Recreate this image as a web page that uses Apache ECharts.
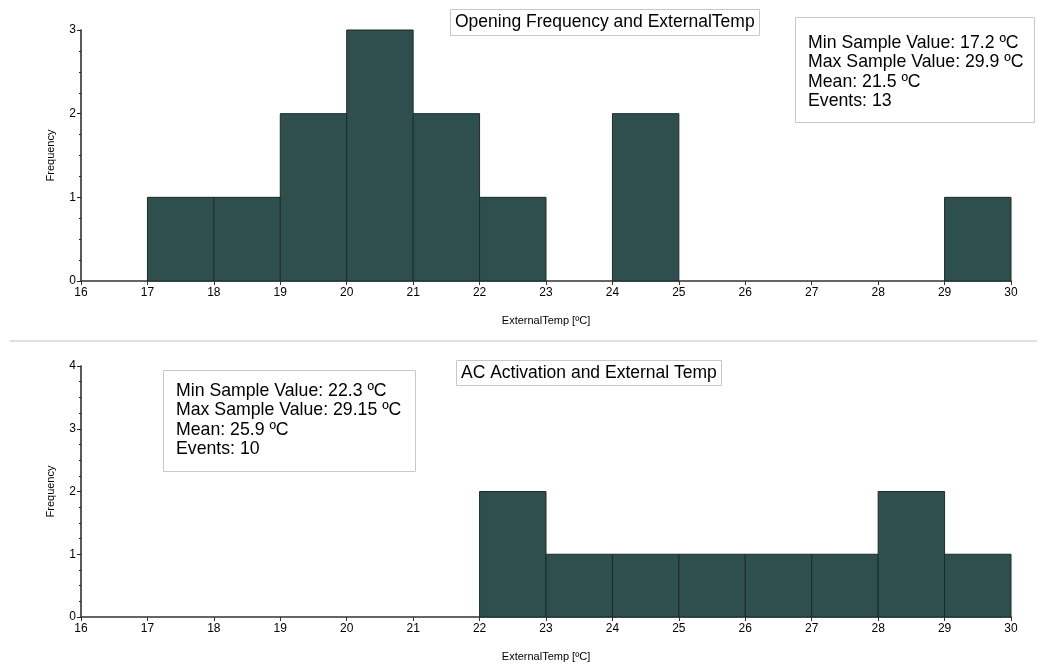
<!DOCTYPE html>
<html>
<head>
<meta charset="utf-8">
<script src="https://cdn.jsdelivr.net/npm/echarts@6/dist/echarts.min.js"></script>
<style>html,body{margin:0;padding:0;background:#fff}#c{width:1037px;height:664px}</style>
</head>
<body>
<div id="c"></div>
<script>
// ---- data ----
const binEdges = [16,17,18,19,20,21,22,23,24,25,26,27,28,29,30];
const openingCounts = [0,1,1,2,3,2,1,0,2,0,0,0,0,1];
const acCounts = [0,0,0,0,0,0,2,1,1,1,1,1,2,1];
const titles = ['Opening Frequency and ExternalTemp', 'AC Activation and External Temp'];
const openingStats = ['Min Sample Value: 17.2 ºC','Max Sample Value: 29.9 ºC','Mean: 21.5 ºC','Events: 13'];
const acStats = ['Min Sample Value: 22.3 ºC','Max Sample Value: 29.15 ºC','Mean: 25.9 ºC','Events: 10'];
const xName = 'ExternalTemp [ºC]';
const yName = 'Frequency';
const yMax = [3, 4];

const FONT = '"Liberation Sans", Arial, sans-serif';
function toData(counts){
  const out = [];
  for (let i = 0; i < counts.length; i++) out.push([binEdges[i], binEdges[i+1], counts[i]]);
  return out;
}
function renderBar(params, api){
  const c = api.value(2);
  if (!c) return null;
  const p0 = api.coord([api.value(0), 0]);
  const p1 = api.coord([api.value(1), c]);
  return {
    type: 'rect',
    shape: {x: p0[0], y: p1[1], width: p1[0]-p0[0], height: p0[1]-p1[1]},
    style: {fill: '#2f4f4f', stroke: '#1c2b2b', lineWidth: 1}
  };
}
function xAxisCfg(gi){
  return {
    gridIndex: gi, type: 'value', min: binEdges[0], max: binEdges[binEdges.length-1], interval: 1,
    name: xName, nameLocation: 'middle', nameGap: 34,
    nameTextStyle: {fontFamily: FONT, fontSize: 11, color: '#000'},
    axisLine: {show: true, onZero: false, lineStyle: {color: '#333', width: 1.5}},
    axisTick: {show: true, length: 4, lineStyle: {color: '#333'}},
    axisLabel: {fontFamily: FONT, fontSize: 12, color: '#000', margin: 6},
    splitLine: {show: false}
  };
}
function yAxisCfg(gi, max){
  return {
    gridIndex: gi, type: 'value', min: 0, max: max, interval: 1,
    name: yName, nameLocation: 'middle', nameGap: 25,
    nameTextStyle: {fontFamily: FONT, fontSize: 11, color: '#000'},
    axisLine: {show: true, lineStyle: {color: '#222', width: 1.5}},
    axisTick: {show: true, length: 4, lineStyle: {color: '#222'}},
    minorTick: {show: true, splitNumber: 4, length: 2, lineStyle: {color: '#222'}},
    axisLabel: {fontFamily: FONT, fontSize: 12, color: '#000', margin: 5},
    splitLine: {show: false}
  };
}
function titleBox(text, left, top, pad, fs){
  return {
    text: text, left: left, top: top,
    borderColor: '#c8c8c8', borderWidth: 1, padding: pad,
    textStyle: {fontFamily: FONT, fontSize: fs, fontWeight: 'normal', color: '#000', lineHeight: 19.5}
  };
}
const chart = echarts.init(document.getElementById('c'), null, {renderer: 'canvas'});
chart.setOption({
  backgroundColor: '#fff',
  animation: false,
  title: [
    titleBox(titles[0], 450, 9, [3, 5, 4, 5], 17.5),
    titleBox(openingStats.join('\n'), 795, 17, [16, 11, 12, 13], 17.7),
    titleBox(titles[1], 456, 360, [3, 5, 3, 5], 17.5),
    titleBox(acStats.join('\n'), 163, 370, [11, 14, 13, 13], 17.7)
  ],
  grid: [
    {left: 81, right: 26, top: 30, height: 251, containLabel: false, outerBoundsMode: 'none'},
    {left: 81, right: 26, top: 366, height: 251, containLabel: false, outerBoundsMode: 'none'}
  ],
  xAxis: [xAxisCfg(0), xAxisCfg(1)],
  yAxis: [yAxisCfg(0, yMax[0]), yAxisCfg(1, yMax[1])],
  series: [
    {type: 'custom', xAxisIndex: 0, yAxisIndex: 0, renderItem: renderBar, data: toData(openingCounts), encode: {x: [0,1], y: 2}},
    {type: 'custom', xAxisIndex: 1, yAxisIndex: 1, renderItem: renderBar, data: toData(acCounts), encode: {x: [0,1], y: 2}}
  ],
  graphic: [
    {type: 'line', shape: {x1: 10, y1: 341, x2: 1037, y2: 341}, style: {stroke: '#e0e0e0', lineWidth: 2}, silent: true}
  ]
});
</script>
</body>
</html>
